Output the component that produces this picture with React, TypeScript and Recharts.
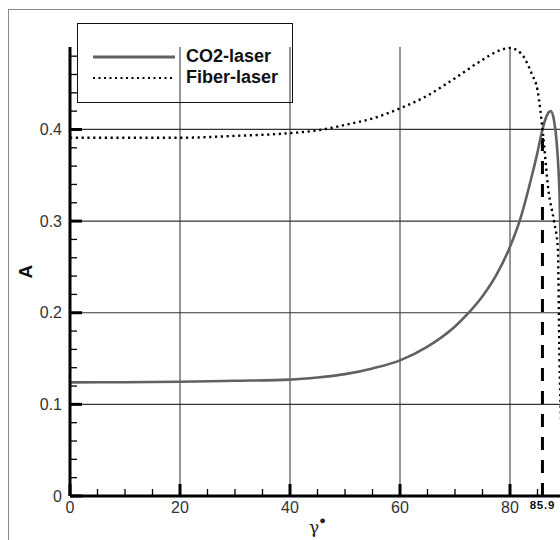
import { Legend, Line, LineChart, ReferenceLine, XAxis, YAxis } from "recharts"

// incidence angle (deg) vs absorptivity
const co2Angle = [0, 10, 20, 30, 40, 45, 50, 55, 60, 65, 70, 72.5, 75, 77.5, 80, 82, 84, 85, 85.9, 86.6, 87.4, 88, 88.5, 89, 89.5, 90]
const co2Absorb = [0.124, 0.1242, 0.1247, 0.1257, 0.127, 0.1293, 0.133, 0.1392, 0.148, 0.163, 0.185, 0.2, 0.218, 0.241, 0.272, 0.305, 0.35, 0.375, 0.4, 0.414, 0.42, 0.41, 0.385, 0.33, 0.2, 0]

const fiberAngle = [0, 10, 20, 30, 40, 45, 50, 55, 60, 65, 70, 75, 78, 80, 82, 84, 85, 86, 87, 88, 88.7, 89, 89.5, 90]
const fiberAbsorb = [0.391, 0.391, 0.391, 0.393, 0.396, 0.399, 0.405, 0.412, 0.423, 0.437, 0.456, 0.476, 0.486, 0.489, 0.483, 0.46, 0.443, 0.395, 0.333, 0.3, 0.27, 0.15, 0.05, 0]

const xTicks = [0, 5, 10, 15, 20, 25, 30, 35, 40, 45, 50, 55, 60, 65, 70, 75, 80, 85, 85.9]
const yTicks = [0, 0.02, 0.04, 0.06, 0.08, 0.1, 0.12, 0.14, 0.16, 0.18, 0.2, 0.22, 0.24, 0.26, 0.28, 0.3, 0.32, 0.34, 0.36, 0.38, 0.4, 0.42, 0.44, 0.46, 0.48]
const xGrid = [20, 40, 60, 80]
const yGrid = [0.1, 0.2, 0.3, 0.4]
const crossAngle = 85.9
const crossValue = 0.398

const co2Data = co2Angle.map((g, i) => ({ g, a: co2Absorb[i] }))
const fiberData = fiberAngle.map((g, i) => ({ g, a: fiberAbsorb[i] }))

const font = "'Liberation Sans', Arial, sans-serif"

function XTick({ x, y, payload }: any) {
  const v = payload.value
  if (v === crossAngle) {
    return (
      <text x={x} y={y + 13} textAnchor="middle" fontFamily={font} fontSize={11.5} fontWeight="bold" letterSpacing={0.8} fill="#111">
        {v}
      </text>
    )
  }
  const major = v % 20 === 0
  return (
    <g>
      <line x1={x} x2={x} y1={y} y2={y - (major ? 12 : 7)} stroke="#000" strokeWidth={major ? 3 : 1.3} />
      {major && (
        <text x={x} y={y + 17} textAnchor="middle" fontFamily={font} fontSize={16} fill="#333">
          {v}
        </text>
      )}
    </g>
  )
}

function YTick({ x, y, payload }: any) {
  const v = payload.value
  const major = Math.abs(v * 10 - Math.round(v * 10)) < 1e-6
  return (
    <g>
      <line x1={x} x2={x + (major ? 12 : 7)} y1={y} y2={y} stroke="#000" strokeWidth={major ? 3 : 1.3} />
      {major && (
        <text x={x - 8} y={y} dy="0.35em" textAnchor="end" fontFamily={font} fontSize={16} fill="#333">
          {v === 0 ? "0" : v.toFixed(1)}
        </text>
      )}
    </g>
  )
}

function YTitle({ viewBox }: any) {
  const cx = viewBox.x - 5
  const cy = viewBox.y + viewBox.height / 2
  return (
    <text x={cx} y={cy} transform={`rotate(-90 ${cx} ${cy})`} textAnchor="middle" dy="0.35em" fontFamily={font} fontSize={19} fontWeight="bold" fill="#111">
      A
    </text>
  )
}

function XTitle({ viewBox }: any) {
  return (
    <text x={viewBox.x + viewBox.width / 2} y={viewBox.y + 37} textAnchor="middle" fill="#222">
      <tspan fontFamily="'DejaVu Serif', serif" fontSize={17}>γ</tspan>
      <tspan fontFamily={font} fontSize={11} dy={-9}>●</tspan>
    </text>
  )
}

function LegendBox() {
  return (
    <div style={{ position: "relative", width: 216, height: 80, border: "1.5px solid #111", boxSizing: "border-box", fontFamily: font, fontWeight: "bold", fontSize: 18, color: "#111" }}>
      <svg width={100} height={80} style={{ position: "absolute", left: 0, top: 0 }}>
        <line x1={15} x2={97} y1={33} y2={33} stroke="#616161" strokeWidth={3} />
        <line x1={15} x2={97} y1={54} y2={54} stroke="#000" strokeWidth={2.2} strokeDasharray="2 3.5" />
      </svg>
      <div style={{ position: "absolute", left: 108, top: 22, lineHeight: "21px" }}>
        <div>CO2-laser</div>
        <div>Fiber-laser</div>
      </div>
    </div>
  )
}

export default function App() {
  return (
    <div style={{ position: "relative", width: 560, height: 540, padding: "8px 0 0 8px", boxSizing: "border-box", overflow: "hidden" }}>
      <style>{"html { overflow: hidden; } body { margin: 0; } #root { width: 560px; height: 540px; }"}</style>
      <div style={{ position: "absolute", left: 8, top: 9, width: 600, height: 600, borderTop: "1px solid #888", borderLeft: "1px solid #888" }} />
      <LineChart width={570} height={532} margin={{ top: 39, right: 13, bottom: 14, left: 22 }}>
        {xGrid.map((v) => (
          <ReferenceLine key={`vx-${v}`} x={v} stroke="#8a8a8a" strokeWidth={1.8} />
        ))}
        {yGrid.map((v) => (
          <ReferenceLine key={`hy-${v}`} y={v} stroke="#333" strokeWidth={1.2} />
        ))}
        <XAxis
          dataKey="g"
          type="number"
          domain={[0, 90]}
          ticks={xTicks}
          interval={0}
          height={30}
          tickSize={0}
          tickMargin={0}
          tickLine={false}
          axisLine={{ stroke: "#000", strokeWidth: 3 }}
          tick={<XTick />}
          label={<XTitle />}
        />
        <YAxis
          type="number"
          domain={[0, 0.49]}
          ticks={yTicks}
          interval={0}
          width={40}
          tickSize={0}
          tickMargin={0}
          tickLine={false}
          axisLine={{ stroke: "#000", strokeWidth: 3 }}
          tick={<YTick />}
          label={<YTitle />}
        />
        <ReferenceLine
          segment={[{ x: crossAngle, y: 0 }, { x: crossAngle, y: crossValue }]}
          stroke="#000"
          strokeWidth={3}
          strokeDasharray="13 10"
        />
        <Line data={co2Data} dataKey="a" name="CO2-laser" type="monotone" stroke="#616161" strokeWidth={2.6} dot={false} isAnimationActive={false} />
        <Line data={fiberData} dataKey="a" name="Fiber-laser" type="monotone" stroke="#000" strokeWidth={2.4} strokeDasharray="2.2 3.6" dot={false} isAnimationActive={false} />
        <Legend
          layout="vertical"
          align="center"
          verticalAlign="middle"
          content={<LegendBox />}
          wrapperStyle={{ position: "absolute", left: 69, top: 15, width: 216, height: 80 }}
        />
      </LineChart>
    </div>
  )
}
